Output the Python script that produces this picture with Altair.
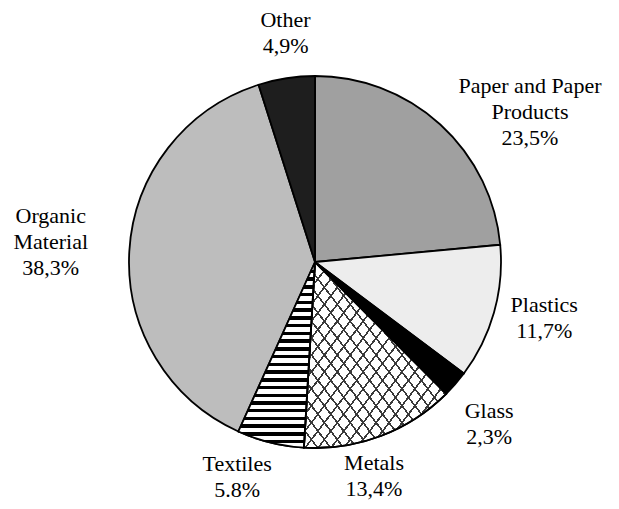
import altair as alt
import pandas as pd

# ---- data ----
categories = ["Paper and Paper Products", "Plastics", "Glass", "Metals",
              "Textiles", "Organic Material", "Other"]
values = [23.5, 11.7, 2.3, 13.4, 5.8, 38.3, 4.9]
labels = ["Paper and Paper\nProducts\n23,5%", "Plastics\n11,7%", "Glass\n2,3%",
          "Metals\n13,4%", "Textiles\n5.8%", "Organic\nMaterial\n38,3%", "Other\n4,9%"]

# ---- styling / layout (not data) ----
fill_colors = ["#a0a0a0", "#ededed", "#000000", "#ffffff", "#ffffff", "#bdbdbd", "#1e1e1e"]
label_nudge_deg = [12.8, -2, 2, 5.3, 6, 1, 1.5]
label_radius = [262, 236, 238, 222, 229, 265, 231]

CX, CY, R = 307, 254, 186
LH = 26

df = pd.DataFrame({
    "idx": list(range(len(categories))),
    "cat": categories,
    "value": values,
    "label": labels,
    "nudge": label_nudge_deg,
    "lr": label_radius,
})


def stripes(n, frac, color, x1, y1, x2, y2, gap="rgba(0,0,0,0)"):
    stops = []
    for k in range(n):
        a = k / n
        b = (k + frac) / n
        stops += [{"offset": a, "color": gap}, {"offset": a, "color": color},
                  {"offset": b, "color": color}, {"offset": b, "color": gap}]
    stops.append({"offset": 1, "color": gap})
    return {"gradient": "linear", "x1": x1, "y1": y1, "x2": x2, "y2": y2, "stops": stops}


base = alt.Chart(df)
theta = alt.Theta("value:Q", stack=True)
order = alt.Order("idx:Q")

pie = base.mark_arc(outerRadius=R, stroke="black", strokeWidth=1.8).encode(
    theta=theta, order=order,
    color=alt.Color("cat:N", scale=alt.Scale(domain=categories, range=fill_colors), legend=None),
    x=alt.value(CX), y=alt.value(CY),
)


def overlay(cat, fill, stroke=True):
    kw = dict(stroke="black", strokeWidth=1.8) if stroke else {}
    return base.mark_arc(outerRadius=R, fill=fill, **kw).encode(
        theta=theta, order=order,
        opacity=alt.condition(alt.datum.cat == cat, alt.value(1), alt.value(0)),
        x=alt.value(CX), y=alt.value(CY),
    )


textiles = overlay("Textiles", stripes(24, 0.45, "#000000", 0, 0, 0, 1, gap="#ffffff"))
metals_a = overlay("Metals", stripes(22, 0.16, "#3a3a3a", 0, 0, 1, 1), stroke=False)
metals_b = overlay("Metals", stripes(22, 0.16, "#3a3a3a", 0, 1, 1, 0))

text = base.transform_window(
    cum="sum(value)", sort=[alt.SortField("idx")]
).transform_joinaggregate(
    total="sum(value)"
).transform_calculate(
    ang="2*PI*(datum.cum - datum.value/2)/datum.total + datum.nudge*PI/180",
    nl="split(datum.label, '\\n').length",
).transform_calculate(
    tx=f"{CX} + datum.lr*sin(datum.ang)",
    ty=f"{CY} - datum.lr*cos(datum.ang) - (datum.nl - 1)*{LH}/2",
).mark_text(
    font="Liberation Serif", fontSize=22, lineHeight=LH, lineBreak="\n",
    align="center", baseline="middle", color="black",
).encode(
    x=alt.X("tx:Q", scale=None),
    y=alt.Y("ty:Q", scale=None),
    text="label:N",
)

chart = alt.layer(pie, textiles, metals_a, metals_b, text).resolve_scale(
    theta="independent"
).properties(
    width=603, height=493, padding=0, autosize="none", background="white"
).configure_view(stroke=None)

chart.save("out.html", embed_options={"renderer": "svg", "actions": False})
